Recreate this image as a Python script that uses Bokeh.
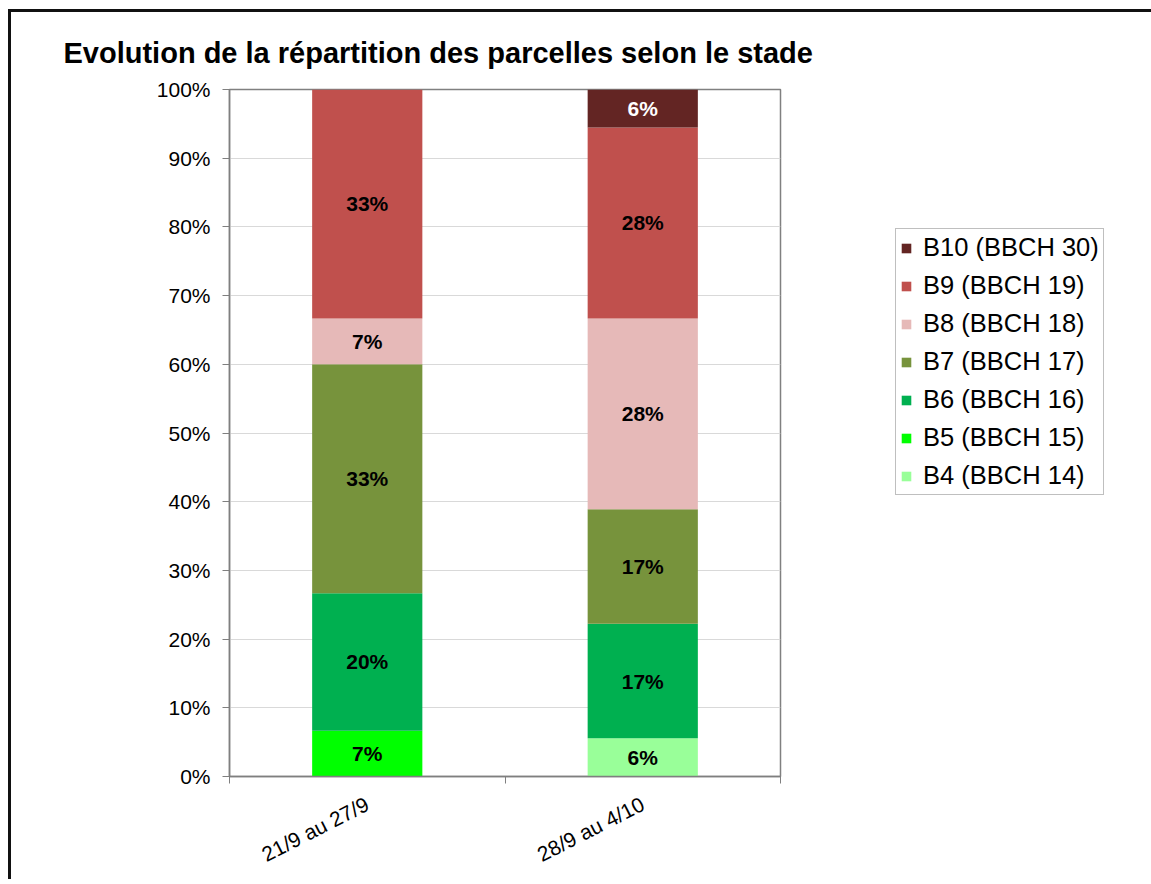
import math
from bokeh.plotting import figure
from bokeh.models import (ColumnDataSource, FixedTicker, NumeralTickFormatter,
                          Legend, LegendItem, Range1d)
from bokeh.core.properties import value
from bokeh.embed import file_html
from bokeh.resources import INLINE

categories = ["21/9 au 27/9", "28/9 au 4/10"]
stages = ["B4 (BBCH 14)", "B5 (BBCH 15)", "B6 (BBCH 16)", "B7 (BBCH 17)",
          "B8 (BBCH 18)", "B9 (BBCH 19)", "B10 (BBCH 30)"]
colors = ["#99FF99", "#00FF00", "#00B050", "#77933C", "#E6B9B8", "#C0504D", "#632523"]
b4 = [0.0, 0.0556]
b5 = [0.0667, 0.0]
b6 = [0.20, 0.1667]
b7 = [0.3333, 0.1667]
b8 = [0.0667, 0.2778]
b9 = [0.3333, 0.2778]
b10 = [0.0, 0.0556]
series = [b4, b5, b6, b7, b8, b9, b10]
label_colors = ["black", "black", "black", "black", "black", "black", "white"]
title_text = "Evolution de la répartition des parcelles selon le stade"

FONT = "Liberation Sans"

xs = [i + 0.5 for i in range(len(categories))]
data = {"x": xs}
for name, vals in zip(stages, series):
    data[name] = vals
src = ColumnDataSource(data)

p = figure(width=1130, height=860, frame_width=551, frame_height=687,
           output_backend="svg", toolbar_location=None,
           x_range=Range1d(0, len(categories)), y_range=Range1d(0, 1),
           min_border_left=218, min_border_right=0, min_border_top=77,
           min_border_bottom=0)
p.styles = {"border-left": "3px solid #111111", "border-top": "3px solid #111111",
            "margin-left": "8px", "margin-top": "9px"}

renderers = p.vbar_stack(stages, x="x", width=0.4, color=colors, source=src,
                         line_color=None)

# segment labels
lx, ly, lt, lc = [], [], [], []
for ci in range(len(categories)):
    base = 0.0
    for si, vals in enumerate(series):
        v = vals[ci]
        if v > 0:
            lx.append(xs[ci])
            ly.append(base + v / 2)
            lt.append(f"{round(v * 100):.0f}%")
            lc.append(label_colors[si])
        base += v
p.text(x=lx, y=ly, text=lt, text_color=lc, text_align="center",
       text_baseline="middle", text_font=value(FONT), text_font_size="21px",
       text_font_style="bold")

# title
p.title.text = title_text
p.title.text_font = FONT
p.title.text_font_size = "29px"
p.title.text_font_style = "bold"
p.title.text_color = "black"
p.title.align = "left"
p.title.offset = -166
p.title.standoff = 41

# axes
p.outline_line_color = "#808080"
p.outline_line_width = 1.5
p.background_fill_color = "white"
p.xgrid.grid_line_color = None
p.ygrid.grid_line_color = "#D9D9D9"
p.ygrid.grid_line_width = 1.2

yax = p.yaxis[0]
yax.ticker = FixedTicker(ticks=[i / 10 for i in range(11)])
yax.formatter = NumeralTickFormatter(format="0%")
yax.major_label_text_font = FONT
yax.major_label_text_font_size = "21px"
yax.major_label_text_color = "black"
yax.major_tick_out = 7
yax.major_tick_in = 0
yax.minor_tick_line_color = None
yax.major_label_standoff = 12
yax.axis_line_color = "#7F7F7F"
yax.axis_line_width = 1.5
yax.major_tick_line_color = "#7F7F7F"

xax = p.xaxis[0]
xax.ticker = FixedTicker(ticks=xs, minor_ticks=list(range(len(categories) + 1)))
xax.major_label_overrides = {x: c for x, c in zip(xs, categories)}
xax.major_label_orientation = math.radians(27)
xax.major_label_text_font = FONT
xax.major_label_text_font_size = "21px"
xax.major_label_text_color = "black"
xax.major_tick_out = 0
xax.major_tick_in = 0
xax.minor_tick_out = 7
xax.minor_tick_in = 0
xax.minor_tick_line_color = "#7F7F7F"
xax.axis_line_color = "#7F7F7F"
xax.axis_line_width = 1.5
xax.major_label_standoff = 19

# legend
items = [LegendItem(label=s, renderers=[r]) for s, r in zip(stages, renderers)][::-1]
legend = Legend(items=items, location=(115, 281))
legend.label_text_font = FONT
legend.label_text_font_size = "25.5px"
legend.label_text_color = "black"
legend.glyph_width = 12
legend.glyph_height = 12
legend.label_standoff = 11
legend.label_height = 27
legend.spacing = 9
legend.padding = 4
legend.margin = 0
legend.border_line_color = "#808080"
legend.border_line_width = 1
p.add_layout(legend, "right")

open("out.html", "w").write(file_html(p, INLINE))
